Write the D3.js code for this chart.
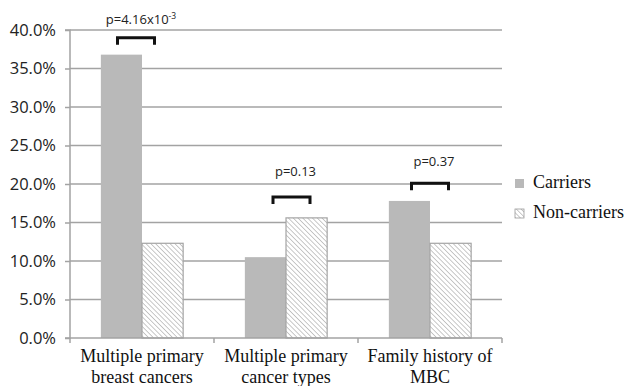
<!DOCTYPE html>
<html>
<head>
<meta charset="utf-8">
<script src="https://cdn.jsdelivr.net/npm/d3@7"></script>
<style>
  body { margin: 0; background: #fff; }
  svg { display: block; }
  .serif { font-family: 'Liberation Serif', 'Times New Roman', serif; }
  .sans { font-family: 'Open Sans', 'Liberation Sans', sans-serif; }
</style>
</head>
<body>
<div id="chart"></div>
<script>
// data
const categories = [
  ['Multiple primary', 'breast cancers'],
  ['Multiple primary', 'cancer types'],
  ['Family history of', 'MBC']
];
const seriesNames = ['Carriers', 'Non-carriers'];
const carriers = [36.8, 10.5, 17.8];
const nonCarriers = [12.3, 15.6, 12.3];
// significance annotations (levels in % units)
const bracketLevels = [39.0, 18.3, 20.1];
const pLabelLevels = [40.8, 21.0, 22.3];
const pLabels = [['p=4.16x10', '-3'], ['p=0.13', ''], ['p=0.37', '']];
const yTicks = [0, 5, 10, 15, 20, 25, 30, 35, 40];

const width = 627, height = 386;
const margin = { top: 30, right: 125, bottom: 48, left: 70 };
const bracketShift = [-6, 5.5, 0]; // brackets aren't exactly centred in the original

const svg = d3.select('#chart').append('svg')
  .attr('width', width)
  .attr('height', height);

// hatch pattern for non-carriers
const defs = svg.append('defs');
const pat = defs.append('pattern')
  .attr('id', 'hatch')
  .attr('patternUnits', 'userSpaceOnUse')
  .attr('width', 3.4)
  .attr('height', 3.4)
  .attr('patternTransform', 'rotate(-45)');
pat.append('rect').attr('width', 3.4).attr('height', 3.4).attr('fill', '#fff');
pat.append('line')
  .attr('x1', 0).attr('y1', 0).attr('x2', 0).attr('y2', 3.4)
  .attr('stroke', '#a4a4a4').attr('stroke-width', 1.2);

const x0 = d3.scaleBand()
  .domain(d3.range(categories.length))
  .range([margin.left, width - margin.right])
  .paddingInner(0)
  .paddingOuter(0);

const x1 = d3.scaleBand()
  .domain(seriesNames)
  .range([0, x0.bandwidth()])
  .paddingOuter(0.75)
  .paddingInner(0);

const y = d3.scaleLinear()
  .domain([0, 40])
  .range([height - margin.bottom, margin.top]);

const gridColor = '#a3a3a3';

// gridlines
svg.append('g')
  .selectAll('line')
  .data(yTicks.slice(1))
  .join('line')
  .attr('x1', margin.left)
  .attr('x2', width - margin.right)
  .attr('y1', d => y(d))
  .attr('y2', d => y(d))
  .attr('stroke', gridColor)
  .attr('stroke-width', 1.7);

// y axis
const yAxis = svg.append('g')
  .attr('transform', `translate(${margin.left},0)`)
  .call(d3.axisLeft(y).tickValues(yTicks).tickFormat(d => d.toFixed(1) + '%').tickSize(5).tickPadding(9));
yAxis.select('.domain').attr('stroke', gridColor).attr('stroke-width', 1.5).attr('d', `M-5,${y(0)}H0V${y(40)}H-5`);
yAxis.selectAll('.tick line').attr('stroke', gridColor).attr('stroke-width', 1.5);
yAxis.selectAll('.tick text')
  .attr('class', 'sans')
  .attr('font-family', null)
  .style('font-size', '16.5px')
  .attr('fill', '#222');

// bars
const groups = svg.append('g')
  .selectAll('g')
  .data(categories.map((c, i) => i))
  .join('g')
  .attr('transform', i => `translate(${x0(i)},0)`);

groups.selectAll('rect')
  .data(i => [
    { s: 'Carriers', v: carriers[i] },
    { s: 'Non-carriers', v: nonCarriers[i] }
  ])
  .join('rect')
  .attr('x', d => x1(d.s))
  .attr('width', x1.bandwidth())
  .attr('y', d => y(d.v))
  .attr('height', d => y(0) - y(d.v))
  .attr('fill', d => d.s === 'Carriers' ? '#b9b9b9' : 'url(#hatch)')
  .attr('stroke', d => d.s === 'Carriers' ? 'none' : '#a4a4a4')
  .attr('stroke-width', 1.2);

// x axis baseline and ticks
const xAxisG = svg.append('g');
xAxisG.append('line')
  .attr('x1', margin.left).attr('x2', width - margin.right)
  .attr('y1', y(0)).attr('y2', y(0))
  .attr('stroke', gridColor).attr('stroke-width', 1.5);
xAxisG.selectAll('line.tk')
  .data(d3.range(categories.length + 1))
  .join('line')
  .attr('class', 'tk')
  .attr('x1', i => i < categories.length ? x0(i) : x0(i - 1) + x0.bandwidth())
  .attr('x2', i => i < categories.length ? x0(i) : x0(i - 1) + x0.bandwidth())
  .attr('y1', y(0)).attr('y2', y(0) + 5)
  .attr('stroke', gridColor).attr('stroke-width', 1.5);

const catText = xAxisG.selectAll('text.cat')
  .data(categories)
  .join('text')
  .attr('class', 'cat serif')
  .attr('x', (d, i) => x0(i) + x0.bandwidth() / 2)
  .attr('y', y(0) + 24)
  .attr('text-anchor', 'middle')
  .style('font-size', '18px')
  .attr('fill', '#111');
catText.selectAll('tspan')
  .data(d => d)
  .join('tspan')
  .attr('x', function () { return this.parentNode.getAttribute('x'); })
  .attr('dy', (d, i) => i === 0 ? 0 : 21)
  .text(d => d);

// significance brackets
const brackets = svg.append('g')
  .selectAll('g')
  .data(bracketLevels.map((v, i) => ({ v, i })))
  .join('g');

brackets.append('path')
  .attr('d', d => {
    const cx = x0(d.i) + x1.bandwidth() * 0 + x0.bandwidth() / 2 + bracketShift[d.i];
    const half = 18.5;
    const top = y(d.v);
    return `M${cx - half},${top + 7}V${top}H${cx + half}V${top + 7}`;
  })
  .attr('fill', 'none')
  .attr('stroke', '#111')
  .attr('stroke-width', 3);

const pText = brackets.append('text')
  .attr('class', 'sans')
  .attr('x', d => x0(d.i) + x0.bandwidth() / 2 + bracketShift[d.i] + (d.i === 0 ? 5 : 4))
  .attr('y', d => y(pLabelLevels[d.i]))
  .attr('text-anchor', 'middle')
  .style('font-size', '13px')
  .attr('fill', '#222');
pText.append('tspan').text(d => pLabels[d.i][0]);
pText.append('tspan')
  .attr('dy', -5)
  .style('font-size', '8.5px')
  .text(d => pLabels[d.i][1]);

// legend
const legend = svg.append('g')
  .attr('transform', `translate(${width - margin.right + 13},0)`);
const legendY = [188, 218];
const leg = legend.selectAll('g')
  .data(seriesNames)
  .join('g')
  .attr('transform', (d, i) => `translate(0,${legendY[i]})`);
leg.append('rect')
  .attr('x', 0).attr('y', -9)
  .attr('width', 9).attr('height', 9)
  .attr('fill', d => d === 'Carriers' ? '#b9b9b9' : 'url(#hatch)')
  .attr('stroke', d => d === 'Carriers' ? 'none' : '#999')
  .attr('stroke-width', 0.8);
leg.append('text')
  .attr('class', 'serif')
  .attr('x', 18)
  .attr('y', 0)
  .style('font-size', '18px')
  .attr('fill', '#111')
  .text(d => d);
</script>
</body>
</html>
